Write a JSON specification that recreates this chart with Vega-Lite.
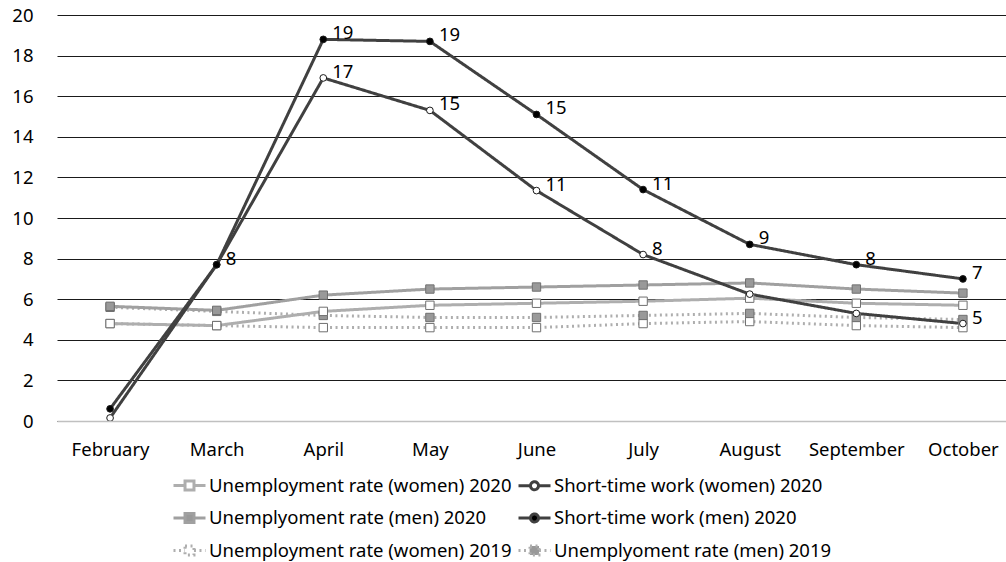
{
  "$schema": "https://vega.github.io/schema/vega-lite/v6.json",
  "autosize": {"type": "none"},
  "padding": {"left": 57, "top": 15, "right": 0, "bottom": 141},
  "width": 949,
  "height": 406,
  "background": "#ffffff",
  "config": {
    "view": {"stroke": null},
    "font": "Noto Sans",
    "axis": {"labelFont": "Noto Sans", "labelFontSize": 18.5, "labelColor": "#000000"},
    "legend": {"labelFont": "Noto Sans", "labelFontSize": 18.5, "labelColor": "#000000"}
  },
  "data": {
    "values": [
      {"month": "February", "series": "Unemployment rate (women) 2019", "value": 4.8, "label": ""},
      {"month": "March", "series": "Unemployment rate (women) 2019", "value": 4.7, "label": ""},
      {"month": "April", "series": "Unemployment rate (women) 2019", "value": 4.6, "label": ""},
      {"month": "May", "series": "Unemployment rate (women) 2019", "value": 4.6, "label": ""},
      {"month": "June", "series": "Unemployment rate (women) 2019", "value": 4.6, "label": ""},
      {"month": "July", "series": "Unemployment rate (women) 2019", "value": 4.8, "label": ""},
      {"month": "August", "series": "Unemployment rate (women) 2019", "value": 4.9, "label": ""},
      {"month": "September", "series": "Unemployment rate (women) 2019", "value": 4.7, "label": ""},
      {"month": "October", "series": "Unemployment rate (women) 2019", "value": 4.6, "label": ""},
      {"month": "February", "series": "Unemplyoment rate (men) 2019", "value": 5.6, "label": ""},
      {"month": "March", "series": "Unemplyoment rate (men) 2019", "value": 5.4, "label": ""},
      {"month": "April", "series": "Unemplyoment rate (men) 2019", "value": 5.2, "label": ""},
      {"month": "May", "series": "Unemplyoment rate (men) 2019", "value": 5.1, "label": ""},
      {"month": "June", "series": "Unemplyoment rate (men) 2019", "value": 5.1, "label": ""},
      {"month": "July", "series": "Unemplyoment rate (men) 2019", "value": 5.2, "label": ""},
      {"month": "August", "series": "Unemplyoment rate (men) 2019", "value": 5.3, "label": ""},
      {"month": "September", "series": "Unemplyoment rate (men) 2019", "value": 5.1, "label": ""},
      {"month": "October", "series": "Unemplyoment rate (men) 2019", "value": 5.0, "label": ""},
      {"month": "February", "series": "Unemployment rate (women) 2020", "value": 4.8, "label": ""},
      {"month": "March", "series": "Unemployment rate (women) 2020", "value": 4.7, "label": ""},
      {"month": "April", "series": "Unemployment rate (women) 2020", "value": 5.4, "label": ""},
      {"month": "May", "series": "Unemployment rate (women) 2020", "value": 5.7, "label": ""},
      {"month": "June", "series": "Unemployment rate (women) 2020", "value": 5.8, "label": ""},
      {"month": "July", "series": "Unemployment rate (women) 2020", "value": 5.9, "label": ""},
      {"month": "August", "series": "Unemployment rate (women) 2020", "value": 6.05, "label": ""},
      {"month": "September", "series": "Unemployment rate (women) 2020", "value": 5.8, "label": ""},
      {"month": "October", "series": "Unemployment rate (women) 2020", "value": 5.7, "label": ""},
      {"month": "February", "series": "Unemplyoment rate (men) 2020", "value": 5.65, "label": ""},
      {"month": "March", "series": "Unemplyoment rate (men) 2020", "value": 5.45, "label": ""},
      {"month": "April", "series": "Unemplyoment rate (men) 2020", "value": 6.2, "label": ""},
      {"month": "May", "series": "Unemplyoment rate (men) 2020", "value": 6.5, "label": ""},
      {"month": "June", "series": "Unemplyoment rate (men) 2020", "value": 6.6, "label": ""},
      {"month": "July", "series": "Unemplyoment rate (men) 2020", "value": 6.7, "label": ""},
      {"month": "August", "series": "Unemplyoment rate (men) 2020", "value": 6.8, "label": ""},
      {"month": "September", "series": "Unemplyoment rate (men) 2020", "value": 6.5, "label": ""},
      {"month": "October", "series": "Unemplyoment rate (men) 2020", "value": 6.3, "label": ""},
      {"month": "February", "series": "Short-time work (women) 2020", "value": 0.15, "label": ""},
      {"month": "March", "series": "Short-time work (women) 2020", "value": 7.7, "label": ""},
      {"month": "April", "series": "Short-time work (women) 2020", "value": 16.9, "label": "17"},
      {"month": "May", "series": "Short-time work (women) 2020", "value": 15.3, "label": "15"},
      {"month": "June", "series": "Short-time work (women) 2020", "value": 11.35, "label": "11"},
      {"month": "July", "series": "Short-time work (women) 2020", "value": 8.2, "label": "8"},
      {"month": "August", "series": "Short-time work (women) 2020", "value": 6.25, "label": ""},
      {"month": "September", "series": "Short-time work (women) 2020", "value": 5.3, "label": ""},
      {"month": "October", "series": "Short-time work (women) 2020", "value": 4.8, "label": "5"},
      {"month": "February", "series": "Short-time work (men) 2020", "value": 0.6, "label": ""},
      {"month": "March", "series": "Short-time work (men) 2020", "value": 7.7, "label": "8"},
      {"month": "April", "series": "Short-time work (men) 2020", "value": 18.8, "label": "19"},
      {"month": "May", "series": "Short-time work (men) 2020", "value": 18.7, "label": "19"},
      {"month": "June", "series": "Short-time work (men) 2020", "value": 15.1, "label": "15"},
      {"month": "July", "series": "Short-time work (men) 2020", "value": 11.4, "label": "11"},
      {"month": "August", "series": "Short-time work (men) 2020", "value": 8.7, "label": "9"},
      {"month": "September", "series": "Short-time work (men) 2020", "value": 7.7, "label": "8"},
      {"month": "October", "series": "Short-time work (men) 2020", "value": 7.0, "label": "7"}
    ]
  },
  "encoding": {
    "x": {
      "field": "month", "type": "ordinal",
      "sort": ["February", "March", "April", "May", "June", "July", "August", "September", "October"],
      "scale": {"type": "point", "padding": 0.451, "align": 0.552},
      "axis": {"title": null, "labelAngle": 0, "ticks": false, "domain": true, "domainColor": "#c0c0c0", "domainWidth": 1.5, "grid": false, "labelPadding": 19, "zindex": 1}
    },
    "y": {
      "field": "value", "type": "quantitative",
      "scale": {"domain": [0, 20], "nice": false, "zero": true},
      "axis": {
        "title": null, "values": [0, 2, 4, 6, 8, 10, 12, 14, 16, 18, 20],
        "ticks": false, "domain": false, "labelPadding": 24,
        "grid": true, "gridWidth": 1, "gridOpacity": 1, "gridColor": "#1a1a1a"
      }
    }
  },
  "layer": [
    {
      "mark": {"type": "line", "strokeJoin": "round"},
      "encoding": {
        "stroke": {
          "field": "series", "type": "nominal",
          "scale": {
            "domain": ["Unemployment rate (women) 2020", "Unemplyoment rate (men) 2020", "Unemployment rate (women) 2019", "Short-time work (women) 2020", "Short-time work (men) 2020", "Unemplyoment rate (men) 2019"],
            "range": ["#aeaeae", "#a0a0a0", "#aeaeae", "#404040", "#404040", "#aeaeae"]
          },
          "legend": {
            "title": null, "orient": "none", "legendX": 115, "legendY": 453,
            "columns": 2, "columnPadding": 0, "rowPadding": 4.5, "padding": 0,
            "symbolSize": 1024, "labelOffset": 2, "labelLimit": 0,
            "encode": {
              "symbols": {
                "update": {
                  "shape": {"signal": "indexof(datum.value, 'Short-time') === 0 ? 'M-1,0H-0.25M0.25,0H1M-0.25,0A0.25,0.25,0,1,0,0.25,0A0.25,0.25,0,1,0,-0.25,0Z' : 'M-1,0H-0.28M0.28,0H1M-0.28,-0.28H0.28V0.28H-0.28Z'"},
                  "fill": {"signal": "datum.value === 'Short-time work (men) 2020' ? '#000000' : (indexof(datum.value, '(men)') > 0 ? '#999999' : '#ffffff')"},
                  "stroke": {"signal": "indexof(datum.value, 'Short-time') === 0 ? '#404040' : '#a6a6a6'"},
                  "strokeDash": {"signal": "indexof(datum.value, '2019') > 0 ? [2, 2] : [1, 0]"},
                  "strokeWidth": {"signal": "indexof(datum.value, 'Short-time') === 0 ? 2 : 2.5"},
                  "opacity": {"value": 1}
                }
              }
            }
          }
        },
        "strokeDash": {
          "field": "series", "type": "nominal",
          "scale": {
            "domain": ["Unemployment rate (women) 2020", "Unemplyoment rate (men) 2020", "Unemployment rate (women) 2019", "Short-time work (women) 2020", "Short-time work (men) 2020", "Unemplyoment rate (men) 2019"],
            "range": [[1, 0], [1, 0], [2, 3.5], [1, 0], [1, 0], [2, 3.5]]
          },
          "legend": null
        },
        "strokeWidth": {
          "field": "series", "type": "nominal",
          "scale": {
            "domain": ["Unemployment rate (women) 2020", "Unemplyoment rate (men) 2020", "Unemployment rate (women) 2019", "Short-time work (women) 2020", "Short-time work (men) 2020", "Unemplyoment rate (men) 2019"],
            "range": [3, 3, 2.5, 2.25, 2.25, 2.5]
          },
          "legend": null
        }
      }
    },
    {
      "transform": [{"filter": "indexof(datum.series, 'Short-time') !== 0"}],
      "mark": {"type": "point", "shape": "square", "size": 70, "opacity": 1, "strokeWidth": 1, "stroke": "#707070"},
      "encoding": {
        "fill": {
          "field": "series", "type": "nominal",
          "scale": {
            "domain": ["Unemployment rate (women) 2020", "Unemplyoment rate (men) 2020", "Unemployment rate (women) 2019", "Short-time work (women) 2020", "Short-time work (men) 2020", "Unemplyoment rate (men) 2019"],
            "range": ["#ffffff", "#999999", "#ffffff", "#ffffff", "#000000", "#999999"]
          },
          "legend": null
        }
      }
    },
    {
      "transform": [{"filter": "indexof(datum.series, 'Short-time') === 0"}],
      "mark": {"type": "point", "shape": "circle", "size": 45, "opacity": 1, "strokeWidth": 1, "stroke": "#1a1a1a"},
      "encoding": {
        "fill": {
          "field": "series", "type": "nominal",
          "legend": null
        }
      }
    },
    {
      "transform": [{"filter": "datum.label !== ''"}],
      "mark": {"type": "text", "align": "left", "baseline": "middle", "dx": 9, "dy": -6, "fontSize": 18.5, "font": "Noto Sans", "color": "#000000"},
      "encoding": {
        "text": {"field": "label", "type": "nominal"}
      }
    }
  ]
}
